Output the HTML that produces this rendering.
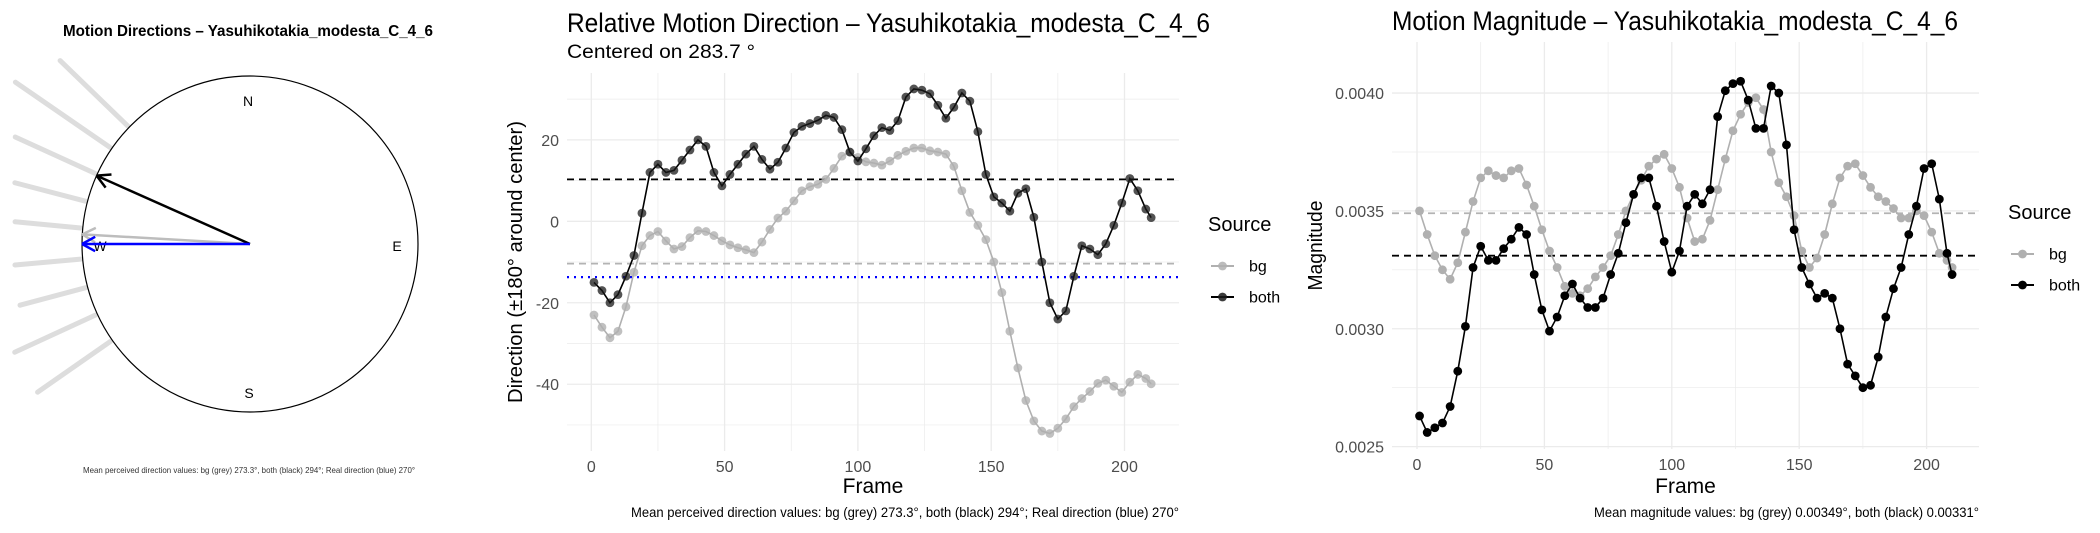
<!DOCTYPE html>
<html><head><meta charset="utf-8"><style>
html,body{margin:0;padding:0;background:#fff;}
svg{display:block;font-family:"Liberation Sans",sans-serif;}
</style></head><body>
<svg id="root" width="2100" height="533" viewBox="0 0 2100 533">
<rect width="2100" height="533" fill="#fff"/>
<g id="compass"></g>
<g id="dir"></g>
<g id="mag"></g>
</svg>
<script>
const frames = [1,4,7,10,13,16,19,22,25,28,31,34,37,40,43,46,49,52,55,58,61,64,67,70,73,76,79,82,85,88,91,94,97,100,103,106,109,112,115,118,121,124,127,130,133,136,139,142,145,148,151,154,157,160,163,166,169,172,175,178,181,184,187,190,193,196,199,202,205,208,210];
const dirBoth = [-15,-17,-20,-18,-13.5,-8.4,2,12,14,12,12.5,15,17.5,20,18.4,12,8.7,11.5,14,16.5,18.4,15.2,12.8,14.5,18,21.8,23.3,24,24.8,26,25.5,22.5,17,14.8,17.8,21,23,22.3,24.7,30.5,32.5,32.2,31.3,28.5,25.3,28,31.5,29.5,22,11.5,6,4.5,2.5,6.9,8,1,-10,-20,-24,-22,-13.5,-6,-6.8,-8.2,-5.5,-1,4.5,10.5,7.5,3,0.9];
const dirBg = [-23,-26,-28.6,-27,-21,-12.5,-6,-3.5,-2.5,-4.8,-6.8,-6.2,-4,-2.3,-2.5,-3.5,-4.8,-5.8,-6.5,-7,-7.7,-5.1,-2,0.8,2.5,5,7.5,8.5,9.1,10.3,13,16,17,15.7,14.6,14.3,13.8,14.8,16.2,17.2,18,18,17.3,17,16.5,13.5,7.5,2.2,-1,-4.5,-10,-17.5,-27,-36,-44,-49,-51.5,-52.1,-50.8,-48.5,-45.5,-43.5,-41.8,-39.8,-39,-40.5,-42,-39.5,-37.6,-38.6,-39.9];
const magBoth = [26.3,25.6,25.8,26.0,26.7,28.2,30.1,32.6,33.5,32.9,32.9,33.4,33.8,34.3,34.0,32.3,30.8,29.9,30.5,31.4,31.9,31.3,30.9,30.9,31.3,32.3,33.2,34.5,35.7,36.4,36.4,35.2,33.7,32.4,33.3,35.2,35.7,35.3,35.9,39.0,40.1,40.4,40.5,39.7,38.5,38.5,40.3,40.0,37.8,34.2,32.6,31.9,31.3,31.5,31.3,30.0,28.5,28.0,27.5,27.6,28.8,30.5,31.7,32.6,34.0,35.2,36.8,37.0,35.5,33.2,32.3];
const magBg = [35.0,34.0,33.1,32.5,32.1,32.8,34.1,35.4,36.4,36.7,36.5,36.4,36.7,36.8,36.1,35.2,34.2,33.3,32.6,31.8,31.5,31.4,31.7,32.2,32.6,33.1,34.0,35.0,35.7,36.3,36.9,37.2,37.4,36.8,36.0,34.7,33.7,33.8,34.6,35.9,37.2,38.4,39.1,39.6,39.8,39.3,37.5,36.2,35.6,34.8,33.3,32.6,33.0,34.0,35.3,36.4,36.9,37.0,36.5,36.0,35.6,35.4,35.1,34.7,34.7,35.0,34.8,34.1,33.2,32.9,32.6];
const xTicks = [0,50,100,150,200];
const dirTicks = [20,0,-20,-40];
const dirTickLabels = ["20","0","-20","-40"];
const magTicks = [40,35,30,25];
const magTickLabels = ["0.0040","0.0035","0.0030","0.0025"];
const dirMeans = {bg:-10.4, both:10.3, real:-13.7};
const magMeans = {bg:34.9, both:33.1};
const rayAngles = [314,304.6,294.5,284.6,275.4,264.9,255.1,245.3,235.1];
const rayLengths = [264,285,258,243,236,236,238,259,259];
const arrowDegrees = {bg:273.3, both:294, real:270};

const NS="http://www.w3.org/2000/svg";
function mk(parent,tag,attrs,text){const e=document.createElementNS(NS,tag);for(const k in attrs)e.setAttribute(k,attrs[k]);if(text!==undefined)e.textContent=text;parent.appendChild(e);return e;}

// ---------- compass ----------
const C=document.getElementById('compass');
let t=mk(C,'text',{x:248,y:36,'text-anchor':'middle','font-size':16,'font-weight':'bold',fill:'#000',textLength:370,lengthAdjust:'spacingAndGlyphs'},'Motion Directions – Yasuhikotakia_modesta_C_4_6');


const cx=250,cy=244,R=168;
rayAngles.forEach((a,i)=>{const r=a*Math.PI/180;const r1=R+2, r2=rayLengths[i];
 const l=mk(C,'line',{x1:cx+r1*Math.sin(r),y1:cy-r1*Math.cos(r),x2:cx+r2*Math.sin(r),y2:cy-r2*Math.cos(r),stroke:'#dddddd','stroke-width':5,'stroke-linecap':'round'});
 
 });
let c=mk(C,'circle',{cx:cx,cy:cy,r:R,fill:'none',stroke:'#000','stroke-width':1.2});


[['N',248,106],['E',397,251],['S',249,398],['W',100,251]].forEach(d=>{const e=mk(C,'text',{x:d[1],y:d[2],'text-anchor':'middle','font-size':14,fill:'#000'},d[0]);
 
 });
function arrow(deg,color,w,name){const r=deg*Math.PI/180;const ex=cx+R*Math.sin(r),ey=cy-R*Math.cos(r);
 const g=mk(C,'g',{});
 
 
 mk(g,'line',{x1:cx,y1:cy,x2:ex,y2:ey,stroke:color,'stroke-width':w});
 const back=r+Math.PI;[0.5,-0.5].forEach(o=>{mk(g,'line',{x1:ex,y1:ey,x2:ex+15*Math.sin(back+o),y2:ey-15*Math.cos(back+o),stroke:color,'stroke-width':w});});}
arrow(arrowDegrees.bg,'#bdbdbd',2.5,'bg-arrow');
arrow(arrowDegrees.both,'#000',2.5,'both-arrow');
arrow(arrowDegrees.real,'#0000ff',2.5,'real-direction-arrow');
t=mk(C,'text',{x:249,y:473,'text-anchor':'middle','font-size':8.5,fill:'#333',textLength:332,lengthAdjust:'spacingAndGlyphs'},'Mean perceived direction values: bg (grey) 273.3°, both (black) 294°; Real direction (blue) 270°');



// ---------- generic panel ----------
function panel(G,o){
 const X=f=>o.x0+(f)*o.xs, Y=v=>o.y0-(v-o.v0)*o.ys;
 for(let f=-25;f<=225;f+=25){const x=X(f);if(x<o.L||x>o.Rr)continue;const l=mk(G,'line',{x1:x,x2:x,y1:o.T,y2:o.B,stroke:'#ebebeb','stroke-width':f%50===0?1.3:0.7});
  
  }
 o.minor.forEach(v=>{const y=Y(v);if(y<o.T||y>o.B)return;const l=mk(G,'line',{x1:o.L,x2:o.Rr,y1:y,y2:y,stroke:'#ebebeb','stroke-width':0.7});
  
  });
 o.yt.forEach((v,i)=>{const y=Y(v);const l=mk(G,'line',{x1:o.L,x2:o.Rr,y1:y,y2:y,stroke:'#ebebeb','stroke-width':1.3});
  
  
  const tx=mk(G,'text',{x:o.L-8,y:y+6,'text-anchor':'end','font-size':16,fill:'#4d4d4d'},o.ytl[i]);
  
  });
 xTicks.forEach(f=>{const tx=mk(G,'text',{x:X(f),y:o.B+21,'text-anchor':'middle','font-size':16,fill:'#4d4d4d'},String(f));
  
  });
 o.means.forEach(m=>{const l=mk(G,'line',{x1:o.L,x2:o.Rr,y1:Y(m.v),y2:Y(m.v),stroke:m.c,'stroke-width':m.w||1.8,'stroke-dasharray':m.d});
  
  });
 o.series.forEach(s=>{const g=mk(G,'g',{});
  
  
  const pts=frames.map((f,i)=>X(f)+','+Y(s.d[i])).join(' ');
  const pl=mk(g,'polyline',{points:pts,fill:'none',stroke:s.lc,'stroke-width':s.lw||1.6});
  
  
  frames.forEach((f,i)=>{const p=mk(g,'circle',{cx:X(f),cy:Y(s.d[i]),r:4.4,fill:s.c,'fill-opacity':s.a});
   
   });
 });
 let e=mk(G,'text',{x:o.L,y:o.titleY,'font-size':27,fill:'#000',textLength:o.titleW,lengthAdjust:'spacingAndGlyphs'},o.title);
 
 
 if(o.sub){e=mk(G,'text',{x:o.L,y:58,'font-size':19,fill:'#000',textLength:188,lengthAdjust:'spacingAndGlyphs'},o.sub);
  
  }
 e=mk(G,'text',{x:(o.L+o.Rr)/2,y:493,'text-anchor':'middle','font-size':21,fill:'#000'},'Frame');
 
 
 e=mk(G,'text',{x:0,y:0,'text-anchor':'middle','font-size':20,fill:'#000',textLength:o.ytw,lengthAdjust:'spacingAndGlyphs',transform:`translate(${o.ytx},${(o.T+o.B)/2}) rotate(-90)`},o.ytitle);
 
 
 e=mk(G,'text',{x:o.Rr,y:517,'text-anchor':'end','font-size':14,fill:'#000',textLength:o.capW,lengthAdjust:'spacingAndGlyphs'},o.cap);
 
 
 const lg=mk(G,'g',{});
 
 
 e=mk(lg,'text',{x:o.lx,y:o.ly,'font-size':20,fill:'#000'},'Source');
 
 
 o.series.forEach((s,i)=>{const y=o.ly+35+i*31;const k=mk(lg,'g',{});
  
  
  mk(k,'line',{x1:o.lx+3,x2:o.lx+26,y1:y,y2:y,stroke:s.lc,'stroke-width':2});
  mk(k,'circle',{cx:o.lx+14.5,cy:y,r:4.4,fill:s.c,'fill-opacity':Math.max(s.a,0.85)});
  mk(k,'text',{x:o.lx+41,y:y+5.5,'font-size':16,fill:'#000'},s.n);});
}
panel(document.getElementById('dir'),{
 x0:591.3,xs:2.666,y0:221.3,v0:0,ys:4.073,L:567,Rr:1179,T:73,B:451,
 yt:dirTicks,ytl:dirTickLabels,minor:[30,10,-10,-30,-50],
 means:[{v:dirMeans.both,c:'#000',d:'7 5',n:'both-mean-line'},{v:dirMeans.bg,c:'#b3b3b3',d:'7 5',n:'bg-mean-line'},{v:dirMeans.real,c:'#0000ff',d:'2 5',n:'real-direction-line',w:2.2}],
 series:[{n:'bg',d:dirBg,c:'#b0b0b0',lc:'#b0b0b0',a:0.8},{n:'both',d:dirBoth,c:'#1a1a1a',lc:'#000',a:0.75}],
 title:'Relative Motion Direction – Yasuhikotakia_modesta_C_4_6',titleW:643,titleY:32,sub:'Centered on  283.7 °',
 ytitle:'Direction (±180° around center)',ytx:522,ytw:282,
 cap:'Mean perceived direction values: bg (grey) 273.3°, both (black) 294°; Real direction (blue) 270°',capW:548,
 lx:1208,ly:231});
panel(document.getElementById('mag'),{
 x0:1417,xs:2.548,y0:210.9,v0:35,ys:23.57,L:1392,Rr:1979,T:42,B:449,
 yt:magTicks,ytl:magTickLabels,minor:[42.5,37.5,32.5,27.5],
 means:[{v:magMeans.bg,c:'#b3b3b3',d:'7 5',n:'bg-mean-line'},{v:magMeans.both,c:'#000',d:'7 5',n:'both-mean-line'}],
 series:[{n:'bg',d:magBg,c:'#b0b0b0',lc:'#b0b0b0',a:1},{n:'both',d:magBoth,c:'#000',lc:'#000',a:1}],
 title:'Motion Magnitude – Yasuhikotakia_modesta_C_4_6',titleW:566,titleY:30,
 ytitle:'Magnitude',ytx:1322,ytw:90,
 cap:'Mean magnitude values: bg (grey) 0.00349°, both (black) 0.00331°',capW:385,
 lx:2008,ly:219});
</script>
</body></html>
